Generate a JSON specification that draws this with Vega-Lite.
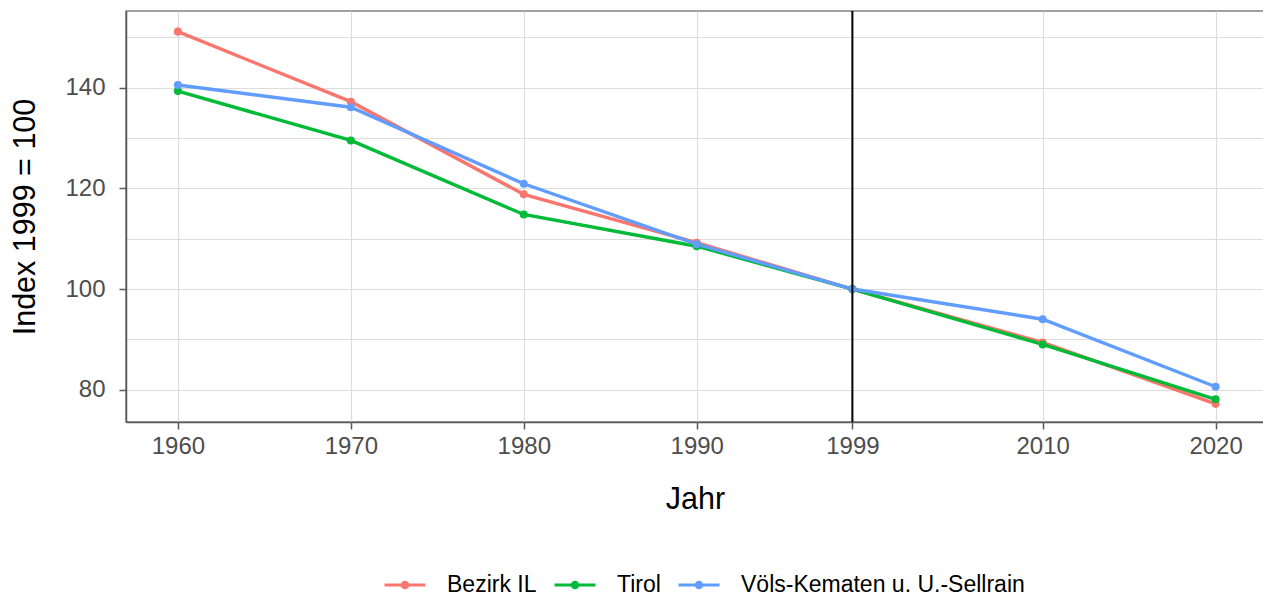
{
  "$schema": "https://vega.github.io/schema/vega-lite/v6.json",
  "autosize": "none",
  "width": 1138,
  "height": 411,
  "padding": {"left": 126, "top": 11, "right": 0, "bottom": 174},
  "background": "white",
  "config": {
    "font": "Liberation Sans",
    "view": {"stroke": "#808080", "strokeWidth": 1.5},
    "axis": {
      "domainColor": "#5a5a5a",
      "domainWidth": 1.5,
      "tickColor": "#5a5a5a",
      "tickWidth": 1.5,
      "tickSize": 7,
      "gridColor": "#dcdcdc",
      "gridWidth": 1.2,
      "labelFont": "Liberation Sans",
      "labelFontSize": 24,
      "labelColor": "#4d4d4d",
      "titleFont": "Liberation Sans",
      "titleFontSize": 30.5,
      "titleFontWeight": "normal",
      "titleColor": "black"
    }
  },
  "datasets": {
    "series": [
      {"Jahr": 1960, "Region": "Bezirk IL", "Index": 151.1},
      {"Jahr": 1970, "Region": "Bezirk IL", "Index": 137.2},
      {"Jahr": 1980, "Region": "Bezirk IL", "Index": 118.8},
      {"Jahr": 1990, "Region": "Bezirk IL", "Index": 109.2},
      {"Jahr": 1999, "Region": "Bezirk IL", "Index": 100},
      {"Jahr": 2010, "Region": "Bezirk IL", "Index": 89.4},
      {"Jahr": 2020, "Region": "Bezirk IL", "Index": 77.2},
      {"Jahr": 1960, "Region": "Tirol", "Index": 139.3},
      {"Jahr": 1970, "Region": "Tirol", "Index": 129.5},
      {"Jahr": 1980, "Region": "Tirol", "Index": 114.8},
      {"Jahr": 1990, "Region": "Tirol", "Index": 108.5},
      {"Jahr": 1999, "Region": "Tirol", "Index": 100},
      {"Jahr": 2010, "Region": "Tirol", "Index": 89.0},
      {"Jahr": 2020, "Region": "Tirol", "Index": 78.1},
      {"Jahr": 1960, "Region": "Völs-Kematen u. U.-Sellrain", "Index": 140.5},
      {"Jahr": 1970, "Region": "Völs-Kematen u. U.-Sellrain", "Index": 136.1},
      {"Jahr": 1980, "Region": "Völs-Kematen u. U.-Sellrain", "Index": 120.9},
      {"Jahr": 1990, "Region": "Völs-Kematen u. U.-Sellrain", "Index": 108.9},
      {"Jahr": 1999, "Region": "Völs-Kematen u. U.-Sellrain", "Index": 100},
      {"Jahr": 2010, "Region": "Völs-Kematen u. U.-Sellrain", "Index": 94.0},
      {"Jahr": 2020, "Region": "Völs-Kematen u. U.-Sellrain", "Index": 80.6}
    ],
    "marker": [{"Jahr": 1999}]
  },
  "layer": [
    {
      "data": {"name": "series"},
      "mark": {"type": "line", "strokeWidth": 3.4, "point": {"filled": true, "size": 65}},
      "encoding": {
        "x": {
          "field": "Jahr",
          "type": "quantitative",
          "scale": {"domain": [1957, 2022.8], "nice": false, "zero": false},
          "axis": {
            "values": [1960, 1970, 1980, 1990, 1999, 2010, 2020],
            "format": "d",
            "title": "Jahr",
            "labelPadding": 5,
            "titlePadding": 26,
            "grid": true
          }
        },
        "y": {
          "field": "Index",
          "type": "quantitative",
          "scale": {"domain": [73.6, 155.2], "nice": false, "zero": false},
          "axis": {
            "values": [80, 90, 100, 110, 120, 130, 140, 150],
            "labelExpr": "datum.value % 20 === 0 ? datum.label : ''",
            "tickOpacity": {"condition": {"test": "datum.value % 20 === 0", "value": 1}, "value": 0},
            "title": "Index 1999 = 100",
            "labelPadding": 14,
            "titlePadding": 24,
            "grid": true
          }
        },
        "color": {
          "field": "Region",
          "type": "nominal",
          "scale": {
            "domain": ["Bezirk IL", "Tirol", "Völs-Kematen u. U.-Sellrain"],
            "range": ["#F8766D", "#00BA38", "#619CFF"]
          },
          "legend": {
            "title": null,
            "orient": "none",
            "legendX": 267,
            "legendY": 562,
            "padding": 0,
            "direction": "horizontal",
            "labelFont": "Liberation Sans",
            "labelFontSize": 23,
            "labelColor": "black",
            "labelLimit": 0,
            "labelOffset": 30,
            "columnPadding": 11,
            "symbolType": "M-2,0H2M-0.26,0A0.26,0.26 0 1 1 0.26,0A0.26,0.26 0 1 1 -0.26,0",
            "symbolSize": 420,
            "symbolStrokeWidth": 3.2
          }
        }
      }
    },
    {
      "data": {"name": "marker"},
      "mark": {"type": "rule", "color": "black", "strokeWidth": 2},
      "encoding": {
        "x": {"field": "Jahr", "type": "quantitative"}
      }
    }
  ]
}
